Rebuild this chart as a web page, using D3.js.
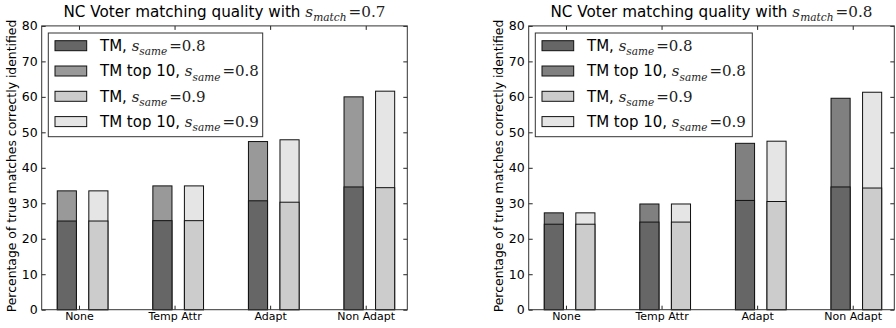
<!DOCTYPE html>
<html>
<head>
<meta charset="utf-8">
<script src="https://cdn.jsdelivr.net/npm/d3@7"></script>
<style>
  body { margin: 0; background: #fff; }
  text { fill: #000; }
</style>
</head>
<body>
<svg id="chart" width="896" height="328"></svg>
<script>
// categories and tick labels
const categories = ["None", "Temp Attr", "Adapt", "Non Adapt"];
const yTicks = [0, 10, 20, 30, 40, 50, 60, 70, 80];

// s_match = 0.7
const tm08A = [25.0, 25.1, 30.7, 34.6];
const top08A = [33.5, 34.9, 47.4, 60.0];
const tm09A = [25.0, 25.1, 30.3, 34.4];
const top09A = [33.5, 34.9, 47.9, 61.6];

// s_match = 0.8
const tm08B = [24.1, 24.7, 30.8, 34.6];
const top08B = [27.3, 29.8, 46.9, 59.6];
const tm09B = [24.1, 24.7, 30.5, 34.3];
const top09B = [27.3, 29.8, 47.5, 61.3];

const panels = [
  { match: "0.7", tm08: tm08A, top08: top08A, tm09: tm09A, top09: top09A,
    colors: ["#666666", "#999999", "#cccccc", "#e5e5e5"] },
  { match: "0.8", tm08: tm08B, top08: top08B, tm09: tm09B, top09: top09B,
    colors: ["#666666", "#808080", "#cccccc", "#e5e5e5"] }
];

const legendItems = [
  { prefix: "TM, ", val: "0.8" },
  { prefix: "TM top 10, ", val: "0.8" },
  { prefix: "TM, ", val: "0.9" },
  { prefix: "TM top 10, ", val: "0.9" }
];

const svg = d3.select("#chart");
const plot = { left: 41.7, width: 365.6, top: 25.9, bottom: 309.7 };
const panelShift = 487;
const barW = 0.2, barOff = 0.33, tickOff = 0.227;

// writes "prefix s_sub=val" with math-ish styling
function mathText(sel, prefix, sub, val, size) {
  sel.append("tspan").attr("font-family", "DejaVu Sans").text(prefix);
  sel.append("tspan").attr("font-family", "DejaVu Serif").attr("font-style", "italic")
    .attr("font-size", size).attr("fill", "#222").text("s");
  sel.append("tspan").attr("font-family", "DejaVu Serif").attr("font-style", "italic")
    .attr("font-size", size * 0.7).attr("fill", "#222").attr("dy", size * 0.28).text(sub);
  sel.append("tspan").attr("font-family", "DejaVu Serif").attr("fill", "#222")
    .attr("font-size", size).attr("dy", -size * 0.28).attr("dx", 2).text("=" + val);
}

function drawPanel(p, k) {
  const g = svg.append("g").attr("transform", `translate(${k * panelShift},0)`);

  const x = d3.scaleLinear().domain([-0.163, 3.662]).range([plot.left, plot.left + plot.width]);
  const y = d3.scaleLinear().domain([0, 80]).range([plot.bottom, plot.top]);
  const idx = categories.map((c, i) => i);

  // bars: total (top 10) first, then TM over it
  const series = [
    { vals: p.top08, off: 0, color: p.colors[1] },
    { vals: p.tm08, off: 0, color: p.colors[0] },
    { vals: p.top09, off: barOff, color: p.colors[3] },
    { vals: p.tm09, off: barOff, color: p.colors[2] }
  ];
  series.forEach(s => {
    g.append("g").selectAll("rect")
      .data(s.vals)
      .enter().append("rect")
      .attr("x", (d, i) => x(i + s.off))
      .attr("width", x(barW) - x(0))
      .attr("y", d => y(d))
      .attr("height", d => y(0) - y(d))
      .attr("fill", s.color)
      .attr("stroke", "#111")
      .attr("stroke-width", 1);
  });

  // axes with inward ticks
  const tickPos = idx.map(i => i + tickOff);
  const xAxis = g.append("g")
    .attr("transform", `translate(0,${plot.bottom})`)
    .call(d3.axisBottom(x).tickValues(tickPos).tickFormat((d, i) => categories[i])
      .tickSize(-4).tickPadding(3));
  xAxis.selectAll("text").attr("font-family", "DejaVu Sans").attr("font-size", 11);

  g.append("g")
    .attr("transform", `translate(0,${plot.top})`)
    .call(d3.axisTop(x).tickValues(tickPos).tickFormat("").tickSize(-4));

  const yAxis = g.append("g")
    .attr("transform", `translate(${plot.left},0)`)
    .call(d3.axisLeft(y).tickValues(yTicks).tickSize(-4).tickPadding(4));
  yAxis.selectAll("text").attr("font-family", "DejaVu Sans").attr("font-size", 12.5);

  g.append("g")
    .attr("transform", `translate(${plot.left + plot.width},0)`)
    .call(d3.axisRight(y).tickValues(yTicks).tickFormat("").tickSize(-4));

  g.selectAll(".domain").remove();
  g.selectAll(".tick line").attr("stroke", "#222");

  g.append("rect")
    .attr("x", plot.left).attr("y", plot.top)
    .attr("width", plot.width).attr("height", plot.bottom - plot.top)
    .attr("fill", "none").attr("stroke", "#333").attr("stroke-width", 1);

  // title
  const title = g.append("text")
    .attr("x", plot.left + plot.width / 2).attr("y", 17)
    .attr("text-anchor", "middle").attr("font-size", 15.2);
  mathText(title, "NC Voter matching quality with ", "match", p.match, 15.2);

  // y label
  g.append("text")
    .attr("transform", `translate(16,166) rotate(-90)`)
    .attr("text-anchor", "middle")
    .attr("font-family", "DejaVu Sans").attr("font-size", 12.4)
    .text("Percentage of true matches correctly identified");

  // legend
  const lg = g.append("g");
  lg.append("rect")
    .attr("x", 48.3).attr("y", 33).attr("width", 214.4 + k * 2.6).attr("height", 103.7)
    .attr("fill", "#fff").attr("stroke", "#333").attr("stroke-width", 1);
  legendItems.forEach((it, j) => {
    const cy = 45.7 + j * 25.3;
    lg.append("rect")
      .attr("x", 55).attr("y", cy - 5).attr("width", 31.7).attr("height", 10)
      .attr("fill", p.colors[j]).attr("stroke", "#111");
    const t = lg.append("text").attr("x", 100).attr("y", cy + 5.4).attr("font-size", 15);
    mathText(t, it.prefix, "same", it.val, 15);
  });
}

panels.forEach(drawPanel);
</script>
</body>
</html>
